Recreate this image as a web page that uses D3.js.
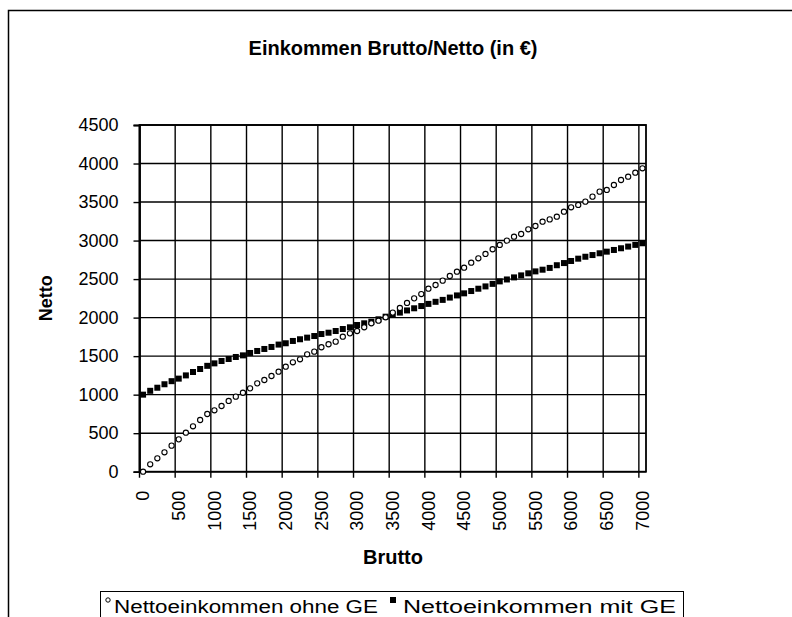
<!DOCTYPE html>
<html><head><meta charset="utf-8">
<script src="https://cdn.jsdelivr.net/npm/d3@7"></script>
<style>body{margin:0;background:#fff}svg{display:block}text{font-family:Arial,"Liberation Sans",sans-serif;fill:#000}</style>
</head><body><svg id="c" width="792" height="617"></svg>
<script>
const titleText = "Einkommen Brutto/Netto (in €)";
const xTitle = "Brutto";
const yTitle = "Netto";
const seriesNames = ["Nettoeinkommen ohne GE", "Nettoeinkommen mit GE"];
const brutto = d3.range(0, 7001, 100);
const yTicks = [0,500,1000,1500,2000,2500,3000,3500,4000,4500];
const xTickLabels = [0,500,1000,1500,2000,2500,3000,3500,4000,4500,5000,5500,6000,6500,7000];
const nettoOhneGE = [0,96,174,252,338,420,506,589,671,749,797,853,918,974,1025,1082,1147,1190,1242,1298,
  1363,1420,1459,1524,1558,1615,1654,1688,1752,1796,1826,1874,1926,1960,2004,2065,2125,2190,2250,2306,
  2375,2423,2480,2540,2596,2648,2713,2770,2826,2887,2943,2999,3050,3085,3146,3189,3245,3275,3310,3375,
  3432,3462,3505,3570,3635,3657,3721,3786,3829,3881,3938];
const nettoMitGE = [1000,1050,1090,1135,1175,1208,1250,1294,1333,1374,1406,1437,1463,1489,1510,1541,1567,1593,1619,1650,
  1667,1697,1719,1740,1761,1787,1804,1826,1852,1874,1904,1926,1947,1978,2012,2040,2065,2093,2121,2150,
  2178,2205,2230,2260,2288,2315,2345,2375,2405,2438,2470,2495,2522,2548,2575,2600,2622,2645,2680,2708,
  2735,2765,2790,2812,2835,2856,2878,2900,2922,2944,2965];

const svg = d3.select("#c");
const L = 139.5, R = 646, T = 125, B = 471.7;
const x = d3.scaleBand().domain(brutto).range([L, R]).padding(0);
const y = d3.scaleLinear().domain([0, 4500]).range([B, T]);
const bw = x.bandwidth();

// outer chart border
svg.append("rect").attr("x", 8.5).attr("y", 10.5).attr("width", 900).attr("height", 800)
  .attr("fill", "none").attr("stroke", "#000").attr("stroke-width", 1.5);

// title
svg.append("text").attr("x", 393).attr("y", 55).attr("text-anchor", "middle")
  .style("font-size", "20px").style("font-weight", "bold").text(titleText);

// gridlines
const grid = svg.append("g").attr("stroke", "#000").attr("stroke-width", 1.4);
grid.selectAll("line.h").data(yTicks).join("line")
  .attr("x1", L).attr("x2", R).attr("y1", d => y(d)).attr("y2", d => y(d));
grid.selectAll("line.v").data(xTickLabels).join("line")
  .attr("x1", d => x(d)).attr("x2", d => x(d)).attr("y1", T).attr("y2", B + 6);

// plot border
svg.append("rect").attr("x", L).attr("y", T).attr("width", R - L).attr("height", B - T)
  .attr("fill", "none").attr("stroke", "#000").attr("stroke-width", 1.8);

// y axis
const ya = svg.append("g").attr("transform", `translate(${L},0)`)
  .call(d3.axisLeft(y).tickValues(yTicks).tickSize(6).tickPadding(15).tickFormat(d3.format("d")));
ya.select(".domain").attr("stroke-width", 1.8);
ya.selectAll(".tick line").attr("stroke-width", 1.4);
ya.selectAll("text").style("font-size", "18px").attr("fill", "#000");

// x axis labels
const xa = svg.append("g").attr("transform", `translate(0,${B})`)
  .call(d3.axisBottom(x).tickValues(xTickLabels).tickSize(0));
xa.select(".domain").remove();
xa.selectAll("text").style("font-size", "18px").attr("fill", "#000")
  .attr("text-anchor", "end").attr("dy", "0.35em").attr("y", 0)
  .attr("transform", "translate(0,19) rotate(-90)");

// axis titles
svg.append("text").attr("x", 393).attr("y", 564).attr("text-anchor", "middle")
  .style("font-size", "20px").style("font-weight", "bold").text(xTitle);
svg.append("text").attr("transform", `translate(52,${(T + B) / 2}) rotate(-90)`).attr("text-anchor", "middle")
  .style("font-size", "18px").style("font-weight", "bold").text(yTitle);

// series
const cx = (d, i) => x(brutto[i]) + bw / 2;
svg.append("g").selectAll("rect").data(nettoMitGE).join("rect")
  .attr("x", (d, i) => cx(d, i) - 3).attr("y", d => y(d) - 3)
  .attr("width", 6).attr("height", 6).attr("fill", "#000");
svg.append("g").selectAll("circle").data(nettoOhneGE).join("circle")
  .attr("cx", cx).attr("cy", d => y(d)).attr("r", 2.6)
  .attr("fill", "#fff").attr("stroke", "#000").attr("stroke-width", 1.1);

// legend
const lg = svg.append("g");
lg.append("rect").attr("x", 100.5).attr("y", 591.5).attr("width", 583).attr("height", 40)
  .attr("fill", "#fff").attr("stroke", "#000").attr("stroke-width", 1);
lg.append("circle").attr("cx", 108).attr("cy", 600).attr("r", 2.2).attr("fill", "#fff").attr("stroke", "#000");
lg.append("text").attr("x", 114).attr("y", 613).style("font-size", "18px")
  .attr("textLength", 264).attr("lengthAdjust", "spacingAndGlyphs").text(seriesNames[0]);
lg.append("rect").attr("x", 390).attr("y", 597).attr("width", 6).attr("height", 6).attr("fill", "#000");
lg.append("text").attr("x", 403).attr("y", 613).style("font-size", "18px")
  .attr("textLength", 273).attr("lengthAdjust", "spacingAndGlyphs").text(seriesNames[1]);
</script></body></html>
